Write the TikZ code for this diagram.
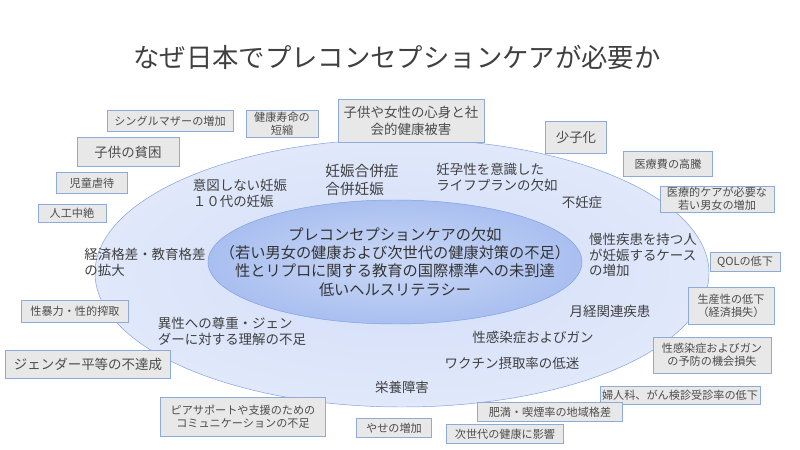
\documentclass[tikz,border=0pt]{standalone}
\usepackage{fontspec}
\setmainfont{Noto Sans CJK JP}
\definecolor{boxline}{HTML}{8EAADB}
\definecolor{outerfill}{HTML}{D3DEF8}
\definecolor{innerfill}{HTML}{A9BFF0}
\definecolor{ringline}{HTML}{7F9FE0}
\tikzset{
    issue/.style={draw=boxline, fill=gray!18, align=center, inner sep=1pt, font=\fontsize{9.5}{11}\selectfont, text=black!70}, % grey boxes
    bigissue/.style={issue, font=\fontsize{11.5}{14}\selectfont},
    inside/.style={align=left, font=\fontsize{11.5}{13.5}\selectfont, text=black!75}, % texts in the ellipse
}
\newcommand{\issuebox}[6][issue]{\node[#1, minimum width=#4*0.03cm, minimum height=#5*0.03cm] (#2) at (#3) {#6};}
\begin{document}
\begin{tikzpicture}[x=0.03cm, y=-0.03cm]
\useasboundingbox (0,0) rectangle (800,450);
% ellipses
\draw[ringline, outer color=outerfill!70!white, inner color=outerfill] (402,273) ellipse [x radius=307, y radius=134];
\draw[ringline, outer color=innerfill, inner color=innerfill!60] (395,262) ellipse [x radius=187, y radius=62];
\node[font=\fontsize{22.5}{26}\selectfont, text=black!75] (title) at (397,57) {なぜ日本でプレコンセプションケアが必要か};
\node[align=center, font=\fontsize{13}{15.5}\selectfont, text=black!80] (core) at (395,262) {プレコンセプションケアの欠如\\（若い男女の健康および次世代の健康対策の不足）\\性とリプロに関する教育の国際標準への未到達\\低いヘルスリテラシー};
% texts inside the outer ellipse
\node[inside] (unplanned) at (240,193) {意図しない妊娠\\１０代の妊娠};
\node[inside, font=\fontsize{12.5}{15}\selectfont] (complication) at (362,180) {妊娠合併症\\合併妊娠};
\node[inside] (lifeplan) at (497,177) {妊孕性を意識した\\ライフプランの欠如};
\node[inside] (infertility) at (582,202) {不妊症};
\node[inside] (gap) at (145,262) {経済格差・教育格差\\の拡大};
\node[inside] (chronic) at (643,255) {慢性疾患を持つ人\\が妊娠するケース\\の増加};
\node[inside] (menses) at (610,311) {月経関連疾患};
\node[inside] (sti) at (533,337) {性感染症およびガン};
\node[inside] (vaccine) at (512,363) {ワクチン摂取率の低迷};
\node[inside] (respect) at (232,331) {異性への尊重・ジェン\\ダーに対する理解の不足};
\node[inside] (nutrition) at (402,387) {栄養障害};
% boxes around
\issuebox{single}{170,121}{126}{21}{シングルマザーの増加}
\issuebox{lifespan}{282,124}{72}{27}{健康寿命の\\短縮}
\issuebox[bigissue]{harm}{411,121}{146}{43}{子供や女性の心身と社\\会的健康被害}
\issuebox[bigissue]{birthrate}{576,137}{61}{32}{少子化}
\issuebox[bigissue]{poverty}{128,152}{102}{29}{子供の貧困}
\issuebox{cost}{668,164}{89}{25}{医療費の高騰}
\issuebox{abuse}{92,183}{71}{21}{児童虐待}
\issuebox{medcare}{717,199}{114}{26}{医療的ケアが必要な\\若い男女の増加}
\issuebox{abortion}{72,213}{68}{18}{人工中絶}
\issuebox{qol}{745,262}{70}{19}{QOLの低下}
\issuebox{productivity}{731,306}{86}{37}{生産性の低下\\（経済損失）}
\issuebox{violence}{75,311}{107}{22}{性暴力・性的搾取}
\issuebox{prevention}{712,355}{118}{36}{性感染症およびガン\\の予防の機会損失}
\issuebox[bigissue]{gender}{88,364}{165}{28}{ジェンダー平等の不達成}
\issuebox{screening}{680,395}{160}{18}{婦人科、がん検診受診率の低下}
\issuebox{peer}{243,417}{165}{39}{ピアサポートや支援のための\\コミュニケーションの不足}
\issuebox{obesity}{550,412}{145}{19}{肥満・喫煙率の地域格差}
\issuebox{thin}{394,428}{75}{19}{やせの増加}
\issuebox{nextgen}{505,434}{117}{19}{次世代の健康に影響}
\end{tikzpicture}
\end{document}
